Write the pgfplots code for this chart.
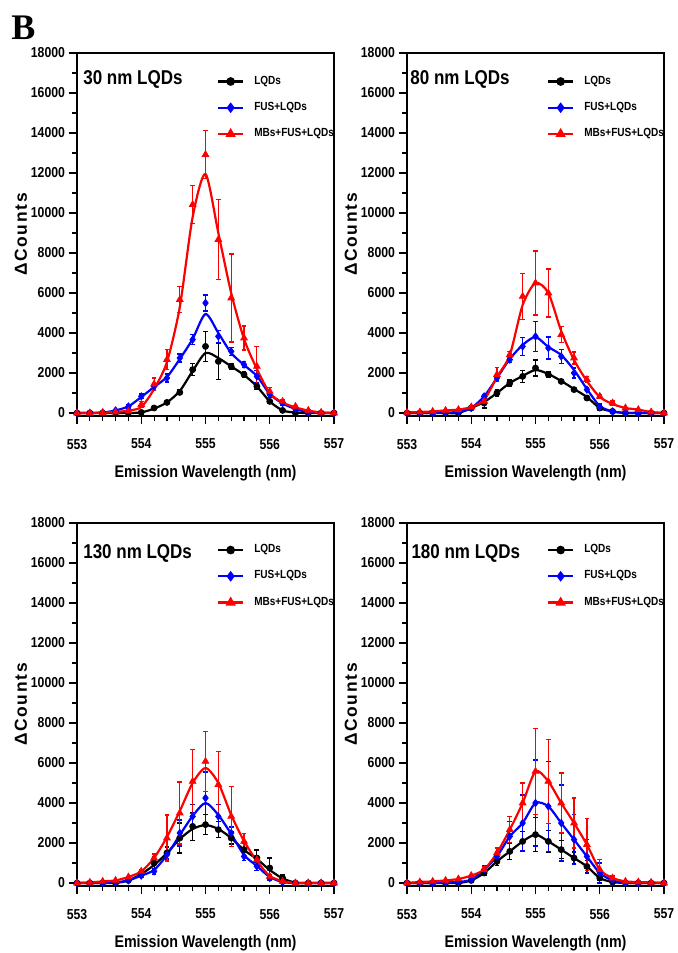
\documentclass[border=0pt]{standalone}
\usepackage{fontspec}
\setmainfont{Liberation Sans}[FakeStretch=0.85]
\newfontfamily\serifB{Liberation Serif}
\newfontfamily\ylabfont{Liberation Sans}[LetterSpace=10]
\usepackage{pgfplots}
\usepackage{pgfplotstable}
\pgfplotsset{compat=1.18}

% columns: x, black (LQDs) mean/err/line, blue (FUS+LQDs), red (MBs+FUS+LQDs)
\pgfplotstableread{
x     k     ke   kl    b     be   bl    r      re    rl
553.0 0     0    0     0     0    0     0      0     0
553.2 0     0    0     0     0    0     0      0     0
553.4 0     0    0     20    0    20    20     0     20
553.6 0     0    0     130   50   130   50     50    50
553.8 0     0    0     330   80   330   100    80    120
554.0 30    0    30    830   120  800   420    150   300
554.2 250   80   220   1330  150  1300  1450   300   1200
554.4 530   100  530   1750  200  1800  2670   500   2550
554.6 1030  120  1100  2750  200  2700  5670   650   5300
554.8 2170  300  2100  3670  250  3700  10420  950   9800
555.0 3330  750  3000  5500  400  4950  12920  1200  11950
555.2 2580  900  2750  3830  300  4000  8670   2000  9000
555.4 2330  150  2330  3080  200  3000  5750   2200  6000
555.6 1920  150  1900  2420  150  2400  3750   600   3700
555.8 1330  150  1330  1830  300  1850  2330   1000  2200
556.0 580   100  580   920   150  950   1080   200   1000
556.2 130   50   130   500   100  480   580    100   520
556.4 0     0    20    200   50   200   330    50    280
556.6 0     0    0     30    0    40    130    50    120
556.8 0     0    0     0     0    0     30     0     30
557.0 0     0    0     0     0    0     0      0     0
}\tabA

\pgfplotstableread{
x     k     ke   kl    b     be   bl    r      re    rl
553.0 0     0    0     0     0    0     30     0     30
553.2 0     0    0     0     0    0     50     0     50
553.4 0     0    0     0     0    0     80     0     80
553.6 0     0    0     30    0    30    130    0     130
553.8 0     0    0     50    0    50    170    0     170
554.0 250   60   250   250   60   250   300    60    300
554.2 500   250  550   830   100  830   580    100   650
554.4 1000  150  1000  1750  150  1750  1920   350   1800
554.6 1500  150  1500  2670  150  2700  2920   150   2900
554.8 1830  300  1850  3330  450  3400  5830   1150  5400
555.0 2250  400  2150  3830  750  3800  6500   1600  6500
555.2 1920  150  1950  3250  550  3300  6000   1200  6000
555.4 1580  100  1600  2830  350  2900  3920   400   4100
555.6 1170  100  1200  2000  250  2150  2750   300   2650
555.8 750   100  800   1170  100  1200  1670   150   1600
556.0 250   50   250   300   150  350   830    100   800
556.2 80    0    80    80    0    80    500    100   450
556.4 0     0    0     0     0    0     250    0     250
556.6 0     0    0     0     0    0     170    0     170
556.8 0     0    0     0     0    0     50     0     50
557.0 0     0    0     0     0    0     0      0     0
}\tabB

\pgfplotstableread{
x     k     ke   kl    b     be   bl    r      re    rl
553.0 0     0    0     0     0    0     0      0     0
553.2 0     0    0     0     0    0     30     0     30
553.4 0     0    0     0     0    0     80     0     80
553.6 0     0    0     30    0    30    130    0     130
553.8 130   0    130   130   0    130   300    0     300
554.0 500   100  450   370   100  370   580    100   580
554.2 1000  300  900   580   150  650   1250   200   1250
554.4 1500  300  1500  1420  200  1400  2250   1150  2300
554.6 2250  750  2200  2500  650  2400  3500   1550  3600
554.8 2830  700  2700  3330  600  3350  5080   1600  5000
555.0 2920  500  2900  4250  1300 4000  6080   1500  5750
555.2 2670  400  2700  3330  600  3400  4920   1650  5000
555.4 2250  300  2250  2500  300  2450  3330   1500  3400
555.6 1670  300  1650  1330  200  1400  2080   400   2100
555.8 1250  400  1200  830   200  850   1170   200   1100
556.0 750   500  650   250   100  300   330    100   350
556.2 250   150  230   30    0    50    80     0     100
556.4 0     0    20    0     0    0     0      0     0
556.6 0     0    0     0     0    0     0      0     0
556.8 0     0    0     0     0    0     0      0     0
557.0 0     0    0     0     0    0     0      0     0
}\tabC

\pgfplotstableread{
x     k     ke   kl    b     be   bl    r      re    rl
553.0 0     0    0     0     0    0     0      0     0
553.2 0     0    0     0     0    0     50     0     50
553.4 0     0    0     0     0    0     80     0     80
553.6 0     0    0     30    0    30    130    0     130
553.8 0     0    0     50    0    50    200    0     200
554.0 130   0    130   170   0    170   370    0     370
554.2 500   100  500   670   200  670   670    150   670
554.4 1080  200  1080  1330  250  1330  1500   250   1500
554.6 1580  400  1580  2330  750  2330  2670   650   2670
554.8 2080  500  2080  3000  1400 3000  4000   1000  4000
555.0 2420  850  2420  4000  2150 4000  5580   2150  5580
555.2 2080  550  2080  3830  2250 3830  5080   2100  5080
555.4 1670  450  1670  3000  1900 3000  4000   1500  4000
555.6 1250  300  1250  2170  1250 2170  3000   1250  3000
555.8 830   300  830   1330  850  1330  1920   1300  1920
556.0 250   100  250   500   500  500   670    500   670
556.2 50    0    50    130   250  130   250    100   250
556.4 0     0    0     0     0    0     80     0     80
556.6 0     0    0     0     0    0     50     0     50
556.8 0     0    0     0     0    0     30     0     30
557.0 0     0    0     0     0    0     0      0     0
}\tabD

\pgfplotsset{
  panel/.style={
    width=128.5pt, height=181.5pt, scale only axis,
    xmin=553, xmax=557, ymin=-150, ymax=18000,
    xtick={553,554,555,556,557}, ytick={0,2000,...,18000},
    minor x tick num=4, minor y tick num=1,
    tick pos=left, tick align=outside,
    major tick length=4pt, minor tick length=2.5pt,
    axis line style={line width=0.8pt},
    every tick/.style={black, line width=0.6pt},
    scaled y ticks=false,
    /pgf/number format/1000 sep={},
    /pgf/number format/assume math mode=true,
    tick label style={font=\fontsize{7.2}{8}\selectfont\bfseries},
    xticklabel style={yshift=-4pt},
    yticklabel style={xshift=1.5pt},
    xlabel={Emission Wavelength (nm)},
    ylabel={ΔCounts},
    xlabel style={at={(axis description cs:0.5,-0.157)}, anchor=center,
      font=\fontsize{8.4}{9}\selectfont\bfseries},
    ylabel style={at={(axis description cs:-0.218,0.5)}, anchor=center,
      font=\fontsize{8.7}{9}\selectfont\ylabfont\bfseries},
    legend image code/.code={
      \draw[mark repeat=2,mark phase=2,##1] plot coordinates {(0pt,0pt) (6.25pt,0pt) (12.5pt,0pt)};},
    legend style={draw=none, fill=none, inner sep=0pt, outer sep=0pt,
      font=\fontsize{5.9}{6}\selectfont\bfseries,
      row sep=3.5pt, column sep=3pt, anchor=north west},
    legend cell align=left,
  },
  kline/.style={black, line width=1.1pt, smooth, tension=0.45, forget plot},
  bline/.style={blue, line width=1.1pt, smooth, tension=0.45, forget plot},
  rline/.style={red, line width=1.1pt, smooth, tension=0.45, forget plot},
  pts/.style={#1, only marks, forget plot,
    error bars/.cd, y dir=both, y explicit,
    error bar style={#1, line width=0.6pt},
    error mark=-,
    error mark options={#1, rotate=90, mark size=1.2pt, line width=0.6pt}},
}

\newcommand{\drawpanel}[7]{%
  % #1 x, #2 y, #3 table, #4 title, #5 title x, #6 title y, #7 legend y
  \begin{axis}[panel, at={(#1,#2)}, anchor=north west,
      legend style={at={(axis description cs:0.545,#7)}}]
    \addlegendimage{black, line width=1.1pt, mark=*, mark size=1.6pt}
    \addlegendentry{LQDs}
    \addlegendimage{blue, line width=1.1pt, mark=diamond*, mark size=1.8pt}
    \addlegendentry{FUS+LQDs}
    \addlegendimage{red, line width=1.1pt, mark=triangle*, mark size=1.9pt}
    \addlegendentry{MBs+FUS+LQDs}
    \addplot[kline] table[x=x, y=kl]{#3};
    \addplot[mark=*, mark size=1.5pt, pts=black] table[x=x, y=k, y error=ke]{#3};
    \addplot[bline] table[x=x, y=bl]{#3};
    \addplot[mark=diamond*, mark size=1.8pt, pts=blue] table[x=x, y=b, y error=be]{#3};
    \addplot[rline] table[x=x, y=rl]{#3};
    \addplot[mark=triangle*, mark size=1.9pt, pts=red] table[x=x, y=r, y error=re]{#3};
    \node[anchor=west, inner sep=0pt, font=\fontsize{10}{11}\selectfont\bfseries]
      at (axis description cs:#5,#6) {#4};
  \end{axis}%
}

\begin{document}
\begin{tikzpicture}
\node[font=\fontsize{18}{18}\selectfont\serifB\bfseries, inner sep=0pt] at (11.75pt,-13.75pt) {B};
\drawpanel{38.5pt}{-26.5pt}{\tabA}{30 nm LQDs}{0.023}{0.928}{0.948}
\drawpanel{203.5pt}{-26.5pt}{\tabB}{80 nm LQDs}{0.012}{0.928}{0.948}
\drawpanel{38.5pt}{-261.5pt}{\tabC}{130 nm LQDs}{0.023}{0.917}{0.952}
\drawpanel{203.5pt}{-261.5pt}{\tabD}{180 nm LQDs}{0.016}{0.917}{0.952}
\pgfresetboundingbox
\useasboundingbox (0,0) rectangle (338.5pt,-476.5pt);
\end{tikzpicture}
\end{document}
